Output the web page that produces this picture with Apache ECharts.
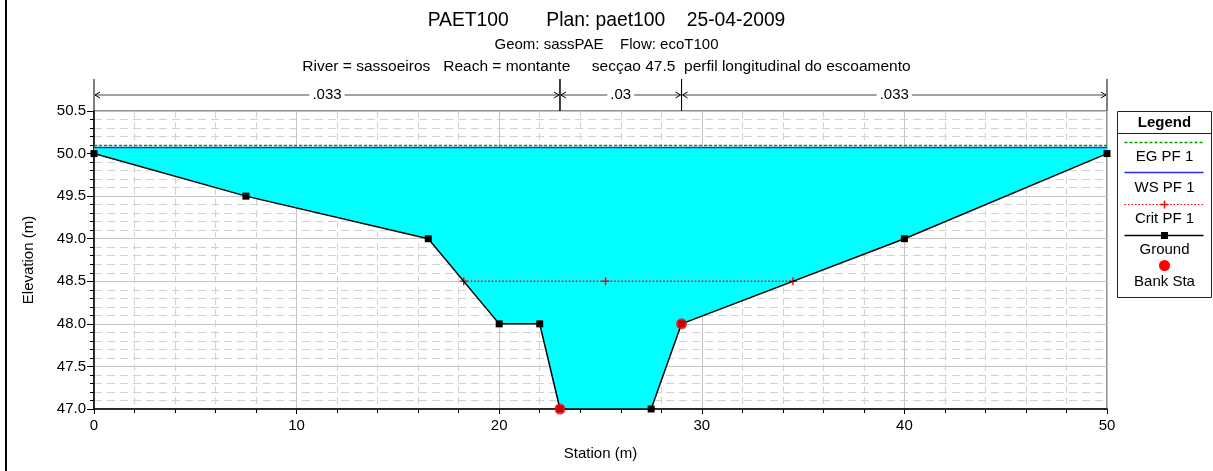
<!DOCTYPE html>
<html>
<head>
<meta charset="utf-8">
<script src="https://cdn.jsdelivr.net/npm/echarts@6/dist/echarts.min.js"></script>
<style>
html,body{margin:0;padding:0;background:#fff;}
#chart{width:1213px;height:471px;}
</style>
</head>
<body>
<div id="chart"></div>
<script>
// ---- data ----
var groundStation = [0, 7.5, 16.5, 20, 22, 23, 27.5, 29, 40, 50];
var groundElev    = [50.0, 49.5, 49.0, 48.0, 48.0, 47.0, 47.0, 48.0, 49.0, 50.0];
var bankStation = [23, 29];
var bankElev    = [47.0, 48.0];
var wsElev = 50.07;
var egElev = 50.095;
var critStation = [18.25, 25.25, 34.5];
var critElev = 48.5;
var nBreaks = [0, 23, 29, 50];
var nValues = ['.033', '.03', '.033'];
var xTicks = [0, 10, 20, 30, 40, 50];
var yTicks = [47.0, 47.5, 48.0, 48.5, 49.0, 49.5, 50.0, 50.5];

var FONT = '"Liberation Sans", Arial, sans-serif';
var RED = '#ff0000';

var groundData = groundStation.map(function (s, i) { return [s, groundElev[i]]; });
var bankData = bankStation.map(function (s, i) { return [s, bankElev[i]]; });
var critData = critStation.map(function (s) { return [s, critElev]; });
var xFirst = groundStation[0], xLast = groundStation[groundStation.length - 1];
var wsData = [[xFirst, wsElev], [xLast, wsElev]];
var egData = [[xFirst, egElev], [xLast, egElev]];
var waterPoly = [[xFirst, wsElev]].concat(groundData).concat([[xLast, wsElev]]);
var nData = [];
for (var i = 0; i < nValues.length; i++) nData.push([nBreaks[i], nBreaks[i + 1], yTicks[yTicks.length - 1]]);

var plusPath = 'path://M-0.18,-1 L0.18,-1 L0.18,-0.18 L1,-0.18 L1,0.18 L0.18,0.18 L0.18,1 L-0.18,1 L-0.18,0.18 L-1,0.18 L-1,-0.18 L-0.18,-0.18 Z';

var chart = echarts.init(document.getElementById('chart'), null, {renderer: 'canvas'});

var option = {
  animation: false,
  backgroundColor: '#ffffff',
  textStyle: {fontFamily: FONT},
  title: [
    {text: 'PAET100       Plan: paet100    25-04-2009', left: 'center', top: 10, padding: 0,
     textStyle: {fontFamily: FONT, fontSize: 19.3, fontWeight: 'normal', color: '#000', lineHeight: 22}},
    {text: 'Geom: sassPAE    Flow: ecoT100', left: 'center', top: 36, padding: 0,
     textStyle: {fontFamily: FONT, fontSize: 15, fontWeight: 'normal', color: '#000', lineHeight: 18}},
    {text: 'River = sassoeiros   Reach = montante     secçao 47.5  perfil longitudinal do escoamento', left: 'center', top: 58, padding: 0,
     textStyle: {fontFamily: FONT, fontSize: 15.5, fontWeight: 'normal', color: '#000', lineHeight: 18}}
  ],
  grid: {left: 94, right: 106, top: 111, bottom: 62, show: true, borderColor: '#222', borderWidth: 1, backgroundColor: 'transparent'},
  xAxis: {
    type: 'value', min: xTicks[0], max: xTicks[xTicks.length - 1], interval: xTicks[1] - xTicks[0],
    name: 'Station (m)', nameLocation: 'middle', nameGap: 37,
    nameTextStyle: {fontFamily: FONT, fontSize: 15, color: '#000'},
    axisLine: {show: true, onZero: false, lineStyle: {color: '#000', width: 1.5}},
    axisTick: {show: true, length: 5, lineStyle: {color: '#000'}},
    minorTick: {show: true, splitNumber: 5, length: 4, lineStyle: {color: '#000'}},
    axisLabel: {fontFamily: FONT, fontSize: 15, color: '#000', margin: 9,
      formatter: function (v) { return String(v); }},
    splitLine: {show: true, lineStyle: {color: '#c4c4c4', width: 1}},
    minorSplitLine: {show: true, lineStyle: {color: '#d2d2d2', width: 1, type: [7, 4]}}
  },
  yAxis: {
    type: 'value', min: yTicks[0], max: yTicks[yTicks.length - 1], interval: yTicks[1] - yTicks[0],
    name: 'Elevation (m)', nameLocation: 'middle', nameGap: 58,
    nameTextStyle: {fontFamily: FONT, fontSize: 15, color: '#000'},
    axisLine: {show: true, onZero: false, lineStyle: {color: '#000', width: 1.5}},
    axisTick: {show: true, length: 7, lineStyle: {color: '#000'}},
    minorTick: {show: true, splitNumber: 5, length: 4, lineStyle: {color: '#000'}},
    axisLabel: {fontFamily: FONT, fontSize: 15, color: '#000', margin: 8,
      formatter: function (v) { return v.toFixed(1); }},
    splitLine: {show: true, lineStyle: {color: '#c4c4c4', width: 1}},
    minorSplitLine: {show: true, lineStyle: {color: '#d2d2d2', width: 1, type: [8, 5]}}
  },
  series: [
    {
      name: 'Water', type: 'custom', z: 1, silent: true,
      data: waterPoly, encode: {x: 0, y: 1},
      renderItem: function (params, api) {
        if (params.dataIndex !== 0) return null;
        var pts = waterPoly.map(function (p) { return api.coord(p); });
        return {type: 'polygon', shape: {points: pts}, style: {fill: '#00ffff', stroke: null}};
      }
    },
    {
      name: 'Manning n', type: 'custom', z: 5, silent: true, clip: false,
      data: nData, encode: {x: [0, 1], y: 2},
      renderItem: function (params, api) {
        var a = api.coord([api.value(0), api.value(2)]);
        var b = api.coord([api.value(1), api.value(2)]);
        var top = a[1];
        var y = top - 16;
        var c = '#444';
        var children = [
          {type: 'line', shape: {x1: a[0], y1: top - 32, x2: a[0], y2: top}, style: {stroke: '#000', lineWidth: 1}},
          {type: 'line', shape: {x1: b[0], y1: top - 32, x2: b[0], y2: top}, style: {stroke: '#000', lineWidth: 1}},
          {type: 'line', shape: {x1: a[0] + 1, y1: y, x2: b[0] - 1, y2: y}, style: {stroke: c, lineWidth: 1}},
          {type: 'polyline', shape: {points: [[a[0] + 6, y - 3], [a[0] + 1, y], [a[0] + 6, y + 3]]}, style: {stroke: '#000', lineWidth: 1, fill: null}},
          {type: 'polyline', shape: {points: [[b[0] - 6, y - 3], [b[0] - 1, y], [b[0] - 6, y + 3]]}, style: {stroke: '#000', lineWidth: 1, fill: null}},
          {type: 'text', x: (a[0] + b[0]) / 2, y: y,
           style: {text: nValues[params.dataIndex], fontFamily: FONT, fontSize: 15, fill: '#000',
                   align: 'center', verticalAlign: 'middle', backgroundColor: '#fff', padding: [0, 3]}}
        ];
        return {type: 'group', children: children};
      }
    },
    {
      name: 'Crit PF 1', type: 'line', z: 3, data: critData, color: RED,
      lineStyle: {color: RED, width: 1.5, type: [1.5, 2], opacity: 1},
      symbol: plusPath, symbolSize: 8, showSymbol: true,
      itemStyle: {color: RED, borderColor: RED, borderWidth: 0}
    },
    {
      name: 'WS PF 1', type: 'line', z: 3, data: wsData, showSymbol: false, symbol: 'none', color: '#2a2aff',
      lineStyle: {color: '#2a2aff', width: 1.5}
    },
    {
      name: 'EG PF 1', type: 'line', z: 4, data: egData, showSymbol: false, symbol: 'none', color: '#00a000',
      lineStyle: {color: '#00a000', width: 1.5, type: [3, 2]}
    },
    {
      name: 'Ground', type: 'line', z: 5, data: groundData, color: '#000',
      lineStyle: {color: '#000', width: 1.5},
      symbol: 'rect', symbolSize: 7, showSymbol: true,
      itemStyle: {color: '#000'}
    },
    {
      name: 'Bank Sta', type: 'scatter', z: 6, data: bankData, color: RED,
      symbol: 'circle', symbolSize: 11,
      itemStyle: {color: RED}
    }
  ],
  graphic: [
    {type: 'line', shape: {x1: 6, y1: 0, x2: 6, y2: 471}, style: {stroke: '#000', lineWidth: 2}},
    {type: 'group', left: 1115, top: 111, children: [
      {type: 'rect', shape: {x: 0, y: 0, width: 94, height: 186}, style: {fill: '#fff', stroke: '#222', lineWidth: 1}},
      {type: 'line', shape: {x1: 0, y1: 22, x2: 94, y2: 22}, style: {stroke: '#222', lineWidth: 1}},
      {type: 'text', x: 47, y: 11, style: {text: 'Legend', fontFamily: FONT, fontSize: 15, fontWeight: 'bold', fill: '#000', align: 'center', verticalAlign: 'middle'}},
      {type: 'line', shape: {x1: 7, y1: 31, x2: 86, y2: 31}, style: {stroke: '#00a000', lineWidth: 1.3, lineDash: [3, 2]}},
      {type: 'text', x: 47, y: 45, style: {text: 'EG PF 1', fontFamily: FONT, fontSize: 15, fill: '#000', align: 'center', verticalAlign: 'middle'}},
      {type: 'line', shape: {x1: 7, y1: 61, x2: 86, y2: 61}, style: {stroke: '#2a2aff', lineWidth: 1.5}},
      {type: 'text', x: 47, y: 76, style: {text: 'WS PF 1', fontFamily: FONT, fontSize: 15, fill: '#000', align: 'center', verticalAlign: 'middle'}},
      {type: 'line', shape: {x1: 7, y1: 93, x2: 86, y2: 93}, style: {stroke: RED, lineWidth: 1, lineDash: [1.5, 2]}},
      {type: 'line', shape: {x1: 43, y1: 93, x2: 51, y2: 93}, style: {stroke: RED, lineWidth: 1.5}},
      {type: 'line', shape: {x1: 47, y1: 89, x2: 47, y2: 97}, style: {stroke: RED, lineWidth: 1.5}},
      {type: 'text', x: 47, y: 107, style: {text: 'Crit PF 1', fontFamily: FONT, fontSize: 15, fill: '#000', align: 'center', verticalAlign: 'middle'}},
      {type: 'line', shape: {x1: 7, y1: 124, x2: 86, y2: 124}, style: {stroke: '#000', lineWidth: 1.5}},
      {type: 'rect', shape: {x: 43.5, y: 120.5, width: 7, height: 7}, style: {fill: '#000'}},
      {type: 'text', x: 47, y: 138, style: {text: 'Ground', fontFamily: FONT, fontSize: 15, fill: '#000', align: 'center', verticalAlign: 'middle'}},
      {type: 'circle', shape: {cx: 47, cy: 154, r: 5.5}, style: {fill: RED}},
      {type: 'text', x: 47, y: 170, style: {text: 'Bank Sta', fontFamily: FONT, fontSize: 15, fill: '#000', align: 'center', verticalAlign: 'middle'}}
    ]}
  ]
};
chart.setOption(option);
</script>
</body>
</html>
